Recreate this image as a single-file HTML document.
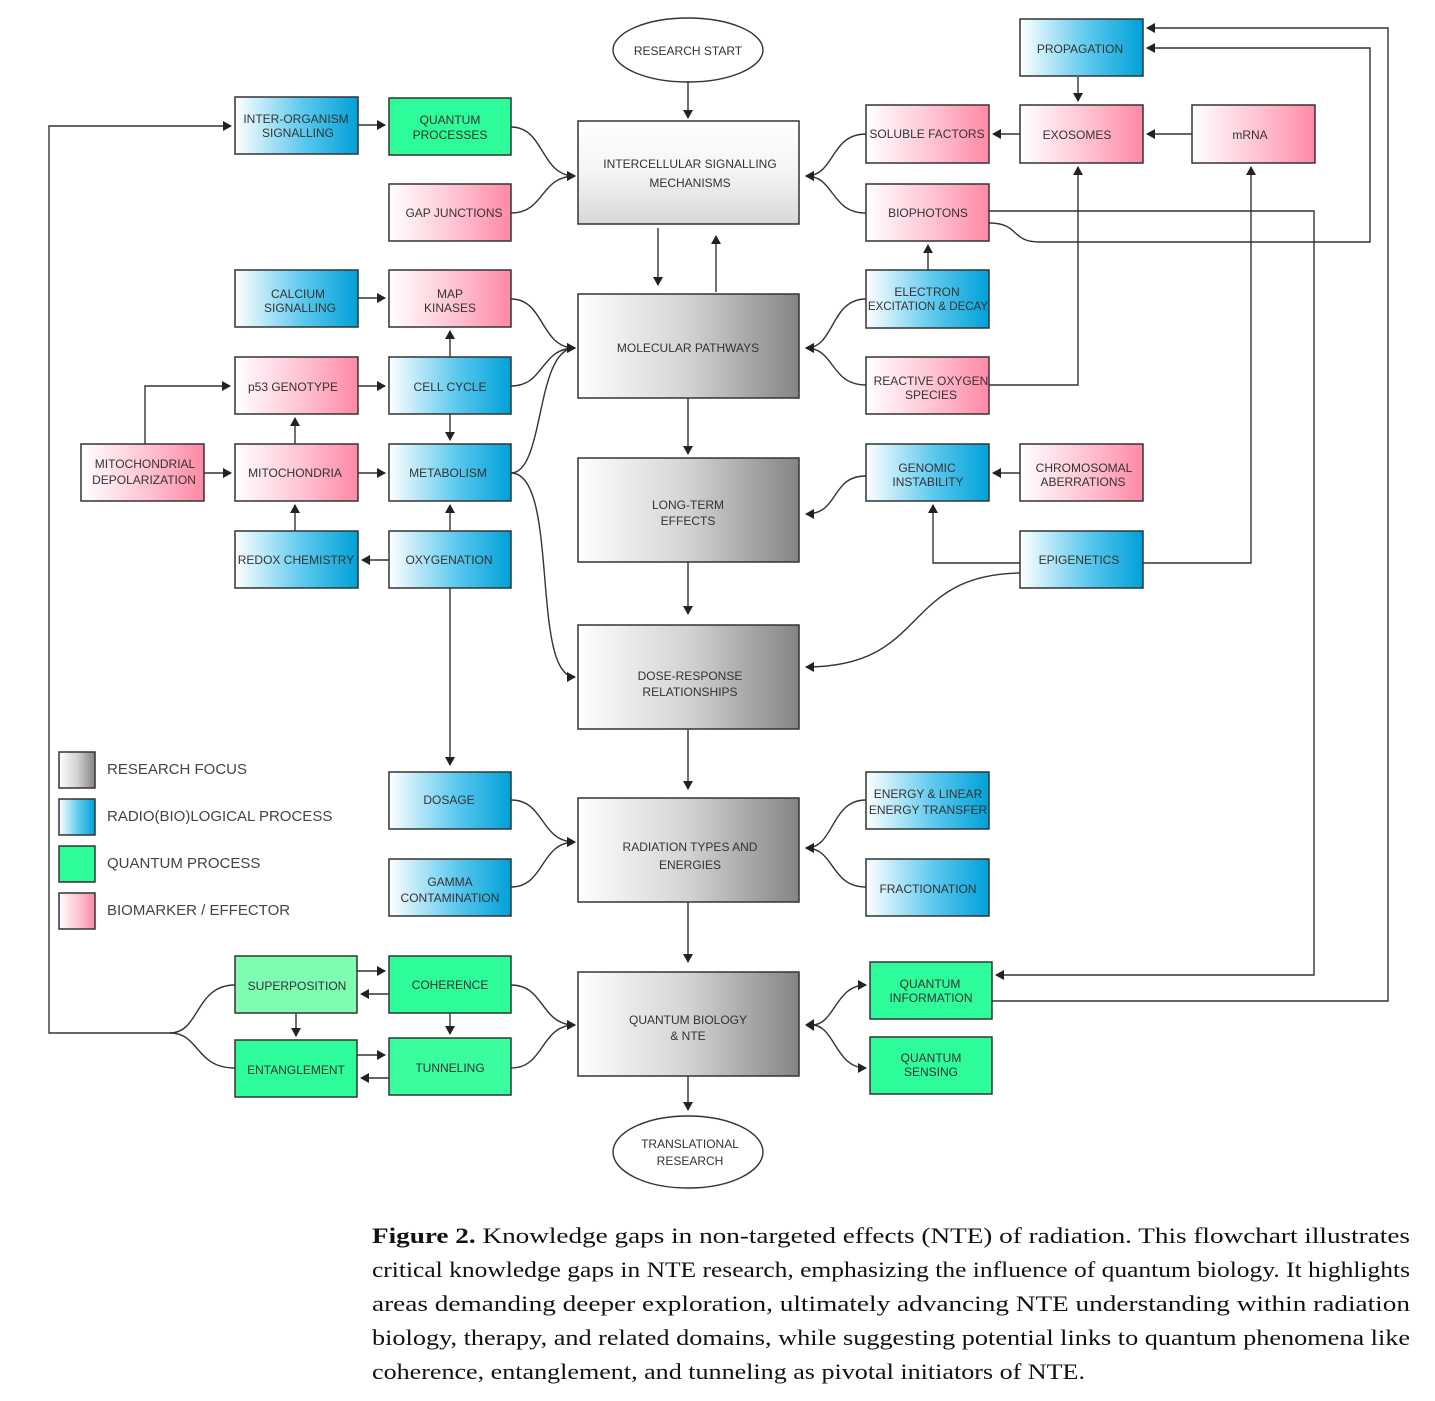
<!DOCTYPE html>
<html><head><meta charset="utf-8"><style>
html,body{margin:0;padding:0;background:#fff;}
svg{display:block;}
.t{font-family:"Liberation Sans",sans-serif;font-size:12px;fill:#333;text-anchor:middle;}
.lg{font-family:"Liberation Sans",sans-serif;font-size:15px;fill:#444;}
.cap{font-family:"Liberation Serif",serif;font-size:22px;fill:#111;}
.l{fill:none;stroke:#333;stroke-width:1.4;}
.b{stroke:#333;stroke-width:1.5;}
</style></head><body>
<svg width="1435" height="1401" viewBox="0 0 1435 1401" xmlns="http://www.w3.org/2000/svg">
<defs>
<linearGradient id="bl" x1="0" x2="1" y1="0" y2="0"><stop offset="0" stop-color="#fff"/><stop offset="0.55" stop-color="#5cc9ee"/><stop offset="1" stop-color="#00a0d8"/></linearGradient>
<linearGradient id="pk" x1="0" x2="1" y1="0" y2="0"><stop offset="0" stop-color="#fff"/><stop offset="0.55" stop-color="#ffc2d2"/><stop offset="1" stop-color="#ff88a6"/></linearGradient>
<linearGradient id="gr" x1="0" x2="1" y1="0" y2="0"><stop offset="0" stop-color="#fff"/><stop offset="0.5" stop-color="#d4d2d2"/><stop offset="1" stop-color="#858383"/></linearGradient>
<linearGradient id="gv" x1="0" x2="0" y1="0" y2="1"><stop offset="0" stop-color="#fff"/><stop offset="0.5" stop-color="#f4f4f4"/><stop offset="1" stop-color="#d8d8d8"/></linearGradient>
<marker id="a" markerWidth="10" markerHeight="10" refX="8" refY="5" orient="auto" markerUnits="userSpaceOnUse"><path d="M0,0 L9,5 L0,10 Z" fill="#222"/></marker>
</defs>

<ellipse cx="688" cy="50" rx="75" ry="32" fill="#fff" stroke="#333" stroke-width="1.4"/>
<text class="t" x="688" y="55">RESEARCH START</text>
<ellipse cx="688" cy="1152" rx="75" ry="36" fill="#fff" stroke="#333" stroke-width="1.4"/>
<text class="t" x="690" y="1148">TRANSLATIONAL</text><text class="t" x="690" y="1165">RESEARCH</text>

<rect class="b" x="578" y="121" width="221" height="103" fill="url(#gv)"/>
<text class="t" x="690" y="168">INTERCELLULAR SIGNALLING</text><text class="t" x="690" y="187">MECHANISMS</text>
<rect class="b" x="578" y="294" width="221" height="104" fill="url(#gr)" stroke="#aaa"/>
<text class="t" x="688" y="352">MOLECULAR PATHWAYS</text>
<rect class="b" x="578" y="458" width="221" height="104" fill="url(#gr)" stroke="#aaa"/>
<text class="t" x="688" y="509">LONG-TERM</text><text class="t" x="688" y="525">EFFECTS</text>
<rect class="b" x="578" y="625" width="221" height="104" fill="url(#gr)" stroke="#aaa"/>
<text class="t" x="690" y="680">DOSE-RESPONSE</text><text class="t" x="690" y="696">RELATIONSHIPS</text>
<rect class="b" x="578" y="798" width="221" height="104" fill="url(#gr)" stroke="#aaa"/>
<text class="t" x="690" y="851">RADIATION TYPES AND</text><text class="t" x="690" y="869">ENERGIES</text>
<rect class="b" x="578" y="972" width="221" height="104" fill="url(#gr)" stroke="#aaa"/>
<text class="t" x="688" y="1024">QUANTUM BIOLOGY</text><text class="t" x="688" y="1040">&amp; NTE</text>

<rect class="b" x="235" y="97" width="123" height="57" fill="url(#bl)"/><text class="t" x="296" y="123">INTER-ORGANISM</text><text class="t" x="298" y="137">SIGNALLING</text>
<rect class="b" x="389" y="98" width="122" height="57" fill="#2efc9a" stroke="#555"/><text class="t" x="450" y="124">QUANTUM</text><text class="t" x="450" y="139">PROCESSES</text>
<rect class="b" x="389" y="184" width="122" height="57" fill="url(#pk)" stroke="#555"/><text class="t" x="454" y="217">GAP JUNCTIONS</text>
<rect class="b" x="235" y="270" width="123" height="57" fill="url(#bl)"/><text class="t" x="298" y="298">CALCIUM</text><text class="t" x="300" y="312">SIGNALLING</text>
<rect class="b" x="389" y="270" width="122" height="57" fill="url(#pk)" stroke="#555"/><text class="t" x="450" y="298">MAP</text><text class="t" x="450" y="312">KINASES</text>
<rect class="b" x="235" y="357" width="123" height="57" fill="url(#pk)" stroke="#555"/><text class="t" x="293" y="391">p53 GENOTYPE</text>
<rect class="b" x="389" y="357" width="122" height="57" fill="url(#bl)" stroke="#555"/><text class="t" x="450" y="391">CELL CYCLE</text>
<rect class="b" x="81" y="444" width="123" height="57" fill="url(#pk)" stroke="#555"/><text class="t" x="145" y="468">MITOCHONDRIAL</text><text class="t" x="144" y="484">DEPOLARIZATION</text>
<rect class="b" x="235" y="444" width="123" height="57" fill="url(#pk)" stroke="#555"/><text class="t" x="295" y="477">MITOCHONDRIA</text>
<rect class="b" x="389" y="444" width="122" height="57" fill="url(#bl)"/><text class="t" x="448" y="477">METABOLISM</text>
<rect class="b" x="235" y="531" width="123" height="57" fill="url(#bl)"/><text class="t" x="296" y="564">REDOX CHEMISTRY</text>
<rect class="b" x="389" y="531" width="122" height="57" fill="url(#bl)"/><text class="t" x="449" y="564">OXYGENATION</text>
<rect class="b" x="389" y="772" width="122" height="57" fill="url(#bl)"/><text class="t" x="449" y="804">DOSAGE</text>
<rect class="b" x="389" y="859" width="122" height="57" fill="url(#bl)"/><text class="t" x="450" y="886">GAMMA</text><text class="t" x="450" y="902">CONTAMINATION</text>
<rect class="b" x="235" y="956" width="122" height="57" fill="#7dfcb2" stroke="#555"/><text class="t" x="297" y="990">SUPERPOSITION</text>
<rect class="b" x="389" y="956" width="122" height="57" fill="#2efc9a" stroke="#555"/><text class="t" x="450" y="989">COHERENCE</text>
<rect class="b" x="235" y="1040" width="122" height="57" fill="#2efc9a" stroke="#555"/><text class="t" x="296" y="1074">ENTANGLEMENT</text>
<rect class="b" x="389" y="1038" width="122" height="57" fill="#3afd9f" stroke="#aaa"/><text class="t" x="450" y="1072">TUNNELING</text>

<rect class="b" x="1020" y="19" width="123" height="57" fill="url(#bl)"/><text class="t" x="1080" y="53">PROPAGATION</text>
<rect class="b" x="866" y="105" width="123" height="58" fill="url(#pk)" stroke="#555"/><text class="t" x="927" y="138">SOLUBLE FACTORS</text>
<rect class="b" x="1020" y="105" width="123" height="58" fill="url(#pk)" stroke="#555"/><text class="t" x="1077" y="139">EXOSOMES</text>
<rect class="b" x="1192" y="105" width="123" height="58" fill="url(#pk)" stroke="#555"/><text class="t" x="1250" y="139">mRNA</text>
<rect class="b" x="866" y="184" width="123" height="57" fill="url(#pk)" stroke="#555"/><text class="t" x="928" y="217">BIOPHOTONS</text>
<rect class="b" x="866" y="270" width="123" height="58" fill="url(#bl)"/><text class="t" x="927" y="296">ELECTRON</text><text class="t" x="928" y="310" style="font-size:11.5px">EXCITATION &amp; DECAY</text>
<rect class="b" x="866" y="357" width="123" height="57" fill="url(#pk)" stroke="#555"/><text class="t" x="931" y="385">REACTIVE OXYGEN</text><text class="t" x="931" y="399">SPECIES</text>
<rect class="b" x="866" y="444" width="123" height="57" fill="url(#bl)"/><text class="t" x="927" y="472">GENOMIC</text><text class="t" x="928" y="486">INSTABILITY</text>
<rect class="b" x="1020" y="444" width="123" height="57" fill="url(#pk)" stroke="#555"/><text class="t" x="1084" y="472">CHROMOSOMAL</text><text class="t" x="1083" y="486">ABERRATIONS</text>
<rect class="b" x="1020" y="531" width="123" height="57" fill="url(#bl)"/><text class="t" x="1079" y="564">EPIGENETICS</text>
<rect class="b" x="866" y="772" width="123" height="57" fill="url(#bl)"/><text class="t" x="928" y="798">ENERGY &amp; LINEAR</text><text class="t" x="928" y="814">ENERGY TRANSFER</text>
<rect class="b" x="866" y="859" width="123" height="57" fill="url(#bl)"/><text class="t" x="928" y="893">FRACTIONATION</text>
<rect class="b" x="870" y="962" width="122" height="57" fill="#2efc9a" stroke="#aaa"/><text class="t" x="930" y="988">QUANTUM</text><text class="t" x="931" y="1002">INFORMATION</text>
<rect class="b" x="870" y="1037" width="122" height="57" fill="#2efc9a" stroke="#555"/><text class="t" x="931" y="1062">QUANTUM</text><text class="t" x="931" y="1076">SENSING</text>

<rect class="b" x="59" y="752" width="36" height="36" fill="url(#gr)"/><text class="lg" x="107" y="774">RESEARCH FOCUS</text>
<rect class="b" x="59" y="799" width="36" height="36" fill="url(#bl)" stroke="#555"/><text class="lg" x="107" y="821">RADIO(BIO)LOGICAL PROCESS</text>
<rect class="b" x="59" y="846" width="36" height="36" fill="#2efc9a"/><text class="lg" x="107" y="868">QUANTUM PROCESS</text>
<rect class="b" x="59" y="893" width="36" height="36" fill="url(#pk)" stroke="#555"/><text class="lg" x="107" y="915">BIOMARKER / EFFECTOR</text>

<g class="l" marker-end="url(#a)">
<path d="M688,82 V118"/>
<path d="M358,125 H385"/>
<path d="M511,127 C545,127 540,176 575,176"/>
<path d="M511,213 C545,213 540,176 575,176"/>
<path d="M658,228 V285"/>
<path d="M716,292 V236"/>
<path d="M866,134 C830,134 835,176 806,176"/>
<path d="M866,213 C830,213 835,176 806,176"/>
<path d="M1020,134 H993"/>
<path d="M1192,134 H1147"/>
<path d="M1078,77 V101"/>
<path d="M928,270 V245"/>
<path d="M866,299 C830,299 835,348 806,348"/>
<path d="M866,385 C830,385 835,348 806,348"/>
<path d="M989,385 H1078 V167"/>
<path d="M989,211 H1314 V975 H996"/>
<path d="M989,223 C1020,223 1010,242 1040,242 H1370 V48 H1147"/>
<path d="M992,1001 H1388 V28 H1147"/>
<path d="M1143,563 H1251 V167"/>
<path d="M1020,563 H933 V505"/>
<path d="M1020,573 C900,575 930,667 806,667"/>
<path d="M1020,473 H993"/>
<path d="M866,476 C830,476 840,514 806,514"/>
<path d="M358,298 H385"/>
<path d="M450,357 V331"/>
<path d="M511,299 C545,299 540,348 575,348"/>
<path d="M511,386 C545,386 540,348 575,348"/>
<path d="M511,473 C545,473 535,348 575,348"/>
<path d="M511,473 C560,473 530,677 575,677"/>
<path d="M358,386 H385"/>
<path d="M295,444 V418"/>
<path d="M145,444 V386 H230"/>
<path d="M204,473 H231"/>
<path d="M358,473 H385"/>
<path d="M450,414 V440"/>
<path d="M450,531 V505"/>
<path d="M295,531 V505"/>
<path d="M389,560 H362"/>
<path d="M450,588 V765"/>
<path d="M688,398 V454"/>
<path d="M688,562 V614"/>
<path d="M688,729 V789"/>
<path d="M688,902 V962"/>
<path d="M688,1076 V1110"/>
<path d="M511,800 C545,800 540,842 575,842"/>
<path d="M511,887 C545,887 540,842 575,842"/>
<path d="M866,800 C830,800 835,848 806,848"/>
<path d="M866,887 C830,887 835,848 806,848"/>
<path d="M357,971 H385"/>
<path d="M389,994 H361"/>
<path d="M357,1055 H385"/>
<path d="M389,1078 H361"/>
<path d="M296,1013 V1036"/>
<path d="M450,1013 V1034"/>
<path d="M511,985 C545,985 540,1025 575,1025"/>
<path d="M511,1068 C545,1068 540,1025 575,1025"/>
<path d="M812,1025 C835,1025 835,985 866,985"/>
<path d="M812,1025 C835,1025 835,1068 866,1068"/>
<path d="M235,985 C195,985 200,1033 170,1033 H49 V126 H231"/>
</g>
<path class="l" d="M235,1068 C195,1068 200,1033 170,1033"/>
<path d="M805,1025 L814,1019 L814,1031 Z" fill="#222"/>

<text class="cap" x="372" y="1243" textLength="1038" lengthAdjust="spacingAndGlyphs"><tspan font-weight="bold">Figure 2.</tspan> Knowledge gaps in non-targeted effects (NTE) of radiation.  This flowchart illustrates</text>
<text class="cap" x="372" y="1277" textLength="1038" lengthAdjust="spacingAndGlyphs">critical knowledge gaps in NTE research, emphasizing the influence of quantum biology. It highlights</text>
<text class="cap" x="372" y="1311" textLength="1038" lengthAdjust="spacingAndGlyphs">areas demanding deeper exploration, ultimately advancing NTE understanding within radiation</text>
<text class="cap" x="372" y="1345" textLength="1038" lengthAdjust="spacingAndGlyphs">biology, therapy, and related domains, while suggesting potential links to quantum phenomena like</text>
<text class="cap" x="372" y="1379" textLength="713" lengthAdjust="spacingAndGlyphs">coherence, entanglement, and tunneling as pivotal initiators of NTE.</text>
</svg>
</body></html>
